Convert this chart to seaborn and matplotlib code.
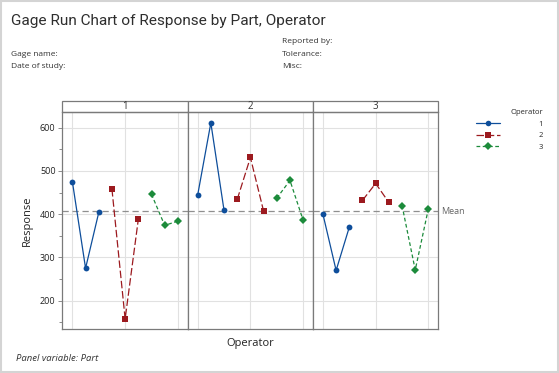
import numpy as np
import pandas as pd
import seaborn as sns
import matplotlib.pyplot as plt
from matplotlib.lines import Line2D
from matplotlib.patches import Rectangle
from matplotlib.ticker import MultipleLocator

sns.set_theme(style="whitegrid")
plt.rcParams['font.family'] = ['Open Sans', 'DejaVu Sans']

parts = [1, 2, 3]
operators = [1, 2, 3]
runs = [1, 2, 3]
# responses per part, ordered operator 1 (3 runs), operator 2, operator 3
part1 = [475, 275, 404, 458, 158, 388, 446, 374, 384]
part2 = [444, 611, 409, 434, 531, 407, 437, 478, 386]
part3 = [400, 270, 370, 432, 471, 427, 420, 271, 413]

op_colors = ["#0E4E9B", "#9C1A1F", "#1C8B3B"]
op_markers = ["o", "s", "D"]
op_styles = ["-", (0, (6, 2.2)), (0, (3, 2))]

rows = []
for part, vals in zip(parts, [part1, part2, part3]):
    for k, v in enumerate(vals):
        op = operators[k // 3]
        run = runs[k % 3]
        rows.append(dict(Part=part, Operator=op, Run=run,
                         Pos=(op - 1) * 3 + run, Response=v))
df = pd.DataFrame(rows)
mean_resp = df["Response"].mean()

g = sns.FacetGrid(df, col="Part", hue="Operator", palette=op_colors,
                  hue_kws=dict(marker=op_markers, linestyle=op_styles,
                               markersize=[4.2, 4.2, 4.0]),
                  despine=False, sharey=True)
g.map(plt.plot, "Pos", "Response", linewidth=0.9, markeredgewidth=0)

fig = g.figure
fig.set_size_inches(5.59, 3.73)
fig.set_dpi(100)
fig.subplots_adjust(left=0.1118, right=0.7841, top=0.6984, bottom=0.118, wspace=0)

edge = "#7a7a7a"
for i, ax in enumerate(g.axes.flat):
    ax.set_xlim(0.25, 9.75)
    ax.set_ylim(134.6, 635)
    ax.set_xticks([1, 5, 9])
    ax.set_xticklabels([])
    ax.set_yticks([200, 300, 400, 500, 600])
    ax.yaxis.set_minor_locator(MultipleLocator(50))
    ax.grid(True, color="#e1e1e1", linewidth=0.8)
    ax.set_title("")
    ax.set_xlabel("")
    ax.set_ylabel("")
    for s in ax.spines.values():
        s.set_color(edge)
        s.set_linewidth(0.9)
    ax.axhline(mean_resp, color="#8f8f8f", linestyle=(0, (5, 3)), linewidth=0.9, zorder=1)
    ax.tick_params(axis="x", length=0)
    if i == 0:
        ax.tick_params(axis="y", which="major", length=3, width=0.6, color=edge,
                       labelsize=6.5, labelcolor="#222222", pad=2, left=True)
        ax.tick_params(axis="y", which="minor", length=2, width=0.6, color=edge, left=True)
    else:
        ax.tick_params(axis="y", which="both", length=0)
    strip_h = 11.5 / 215.5
    ax.add_patch(Rectangle((0, 1), 1, strip_h, transform=ax.transAxes,
                           facecolor="white", edgecolor=edge, linewidth=0.9,
                           clip_on=False))
    ax.text(0.5, 1 + strip_h / 2, str(parts[i]), transform=ax.transAxes,
            ha="center", va="center", fontsize=7, color="#333333")

g.axes.flat[0].set_ylabel("Response", fontsize=8, color="#222222", labelpad=5)
g.axes.flat[1].set_xlabel("Operator", fontsize=8, color="#222222", labelpad=3)
g.axes.flat[2].text(9.95, mean_resp, "Mean", ha="left", va="center",
                    fontsize=6.5, color="#666666", clip_on=False)

handles = [Line2D([], [], color=c, marker=m, linestyle=ls, linewidth=0.9,
                  markersize=4, markeredgewidth=0)
           for c, m, ls in zip(op_colors, op_markers, op_styles)]
leg = fig.legend(handles, [str(o) for o in operators], title="Operator",
                 loc="upper right", bbox_to_anchor=(0.977, 0.715),
                 frameon=False, fontsize=5.5, title_fontsize=5.5,
                 handlelength=3.2, handletextpad=5.0, labelspacing=0.55,
                 alignment="right", borderaxespad=0)

fig.text(0.02, 0.945, "Gage Run Chart of Response by Part, Operator",
         fontsize=11.1, color="#2e2e2e", ha="left", va="center",
         family=["Roboto", "DejaVu Sans"])
fig.text(0.02, 0.855, "Gage name:", fontsize=6, color="#333333", va="center")
fig.text(0.02, 0.823, "Date of study:", fontsize=6, color="#333333", va="center")
fig.text(0.504, 0.89, "Reported by:", fontsize=6, color="#333333", va="center")
fig.text(0.504, 0.855, "Tolerance:", fontsize=6, color="#333333", va="center")
fig.text(0.504, 0.823, "Misc:", fontsize=6, color="#333333", va="center")
fig.text(0.028, 0.04, "Panel variable: Part", fontsize=6.8, style="italic",
         color="#333333", va="center")

fig.add_artist(Rectangle((0.001, 0.002), 0.997, 0.995, transform=fig.transFigure,
                         facecolor="none", edgecolor="#d4d4d4", linewidth=1.5))

fig.savefig("out.png", dpi=100)
